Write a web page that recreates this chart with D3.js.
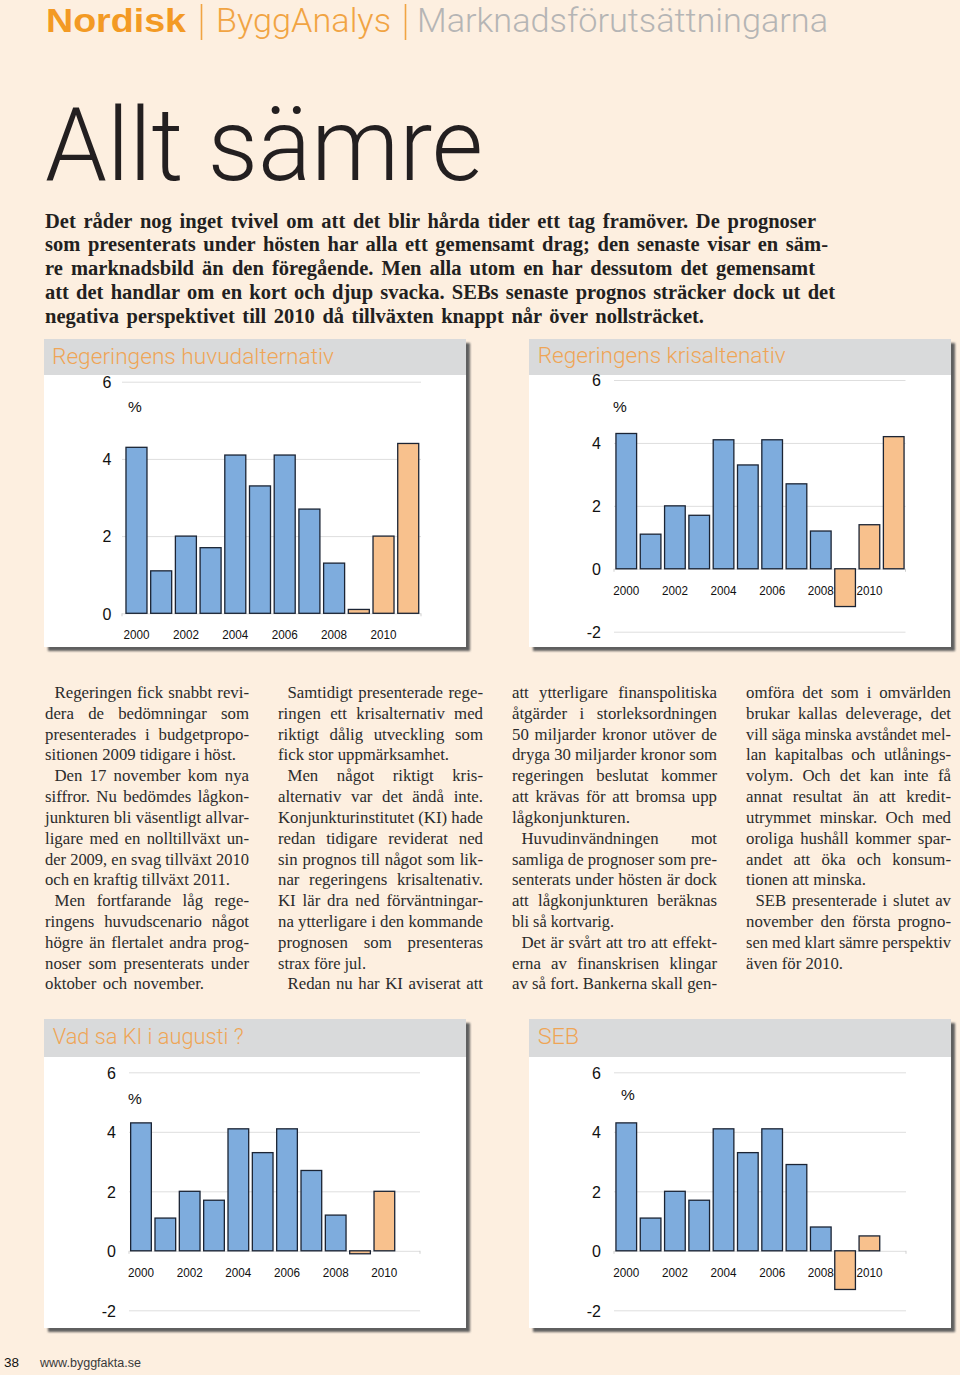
<!DOCTYPE html>
<html><head><meta charset="utf-8">
<script src="https://cdn.jsdelivr.net/npm/d3@7"></script>
<style>html,body{margin:0;padding:0;background:#fdefe0;} svg{display:block}</style>
</head><body><svg id="page" width="960" height="1375"></svg>
<script>
// ---------- DATA ----------
const years = ["2000","2001","2002","2003","2004","2005","2006","2007","2008","2009","2010","2011"];
const xTickLabels = ["2000","2002","2004","2006","2008","2010"];
const forecastYears = ["2009","2010","2011"];
const huvudValues = [4.3, 1.1, 2.0, 1.7, 4.1, 3.3, 4.1, 2.7, 1.3, 0.1, 2.0, 4.4];
const krisValues  = [4.3, 1.1, 2.0, 1.7, 4.1, 3.3, 4.1, 2.7, 1.2, -1.2, 1.4, 4.2];
const kiValues    = [4.3, 1.1, 2.0, 1.7, 4.1, 3.3, 4.1, 2.7, 1.2, -0.1, 2.0, null];
const sebValues   = [4.3, 1.1, 2.0, 1.7, 4.1, 3.3, 4.1, 2.9, 0.8, -1.3, 0.5, null];
const ticksPositive = [0, 2, 4, 6];
const ticksWithNegative = [-2, 0, 2, 4, 6];
const chartTitles = ["Regeringens huvudalternativ", "Regeringens krisaltenativ", "Vad sa KI i augusti ?", "SEB"];
const unitLabel = "%";

// ---------- PAGE ----------
const svg = d3.select("#page");
const SANS = "'Liberation Sans', Arial, sans-serif";
const LIGHT = "Roboto, 'Liberation Sans', sans-serif";
const SERIF = "'Liberation Serif', 'Times New Roman', serif";

svg.append("rect").attr("width",960).attr("height",1375).attr("fill","#fdefe0");

const defs = svg.append("defs");
defs.append("filter").attr("id","shadow").attr("x","-5%").attr("y","-5%").attr("width","110%").attr("height","110%")
  .append("feGaussianBlur").attr("stdDeviation",1.2);

function fitText(sel, target, mode) {
  sel.each(function(){
    const node = this;
    const w = node.getComputedTextLength();
    const txt = node.textContent;
    const spaces = (txt.match(/ /g) || []).length;
    if (mode === "words" && spaces > 0 && target >= w) {
      d3.select(node).attr("word-spacing", (target - w) / spaces);
    } else {
      d3.select(node).attr("textLength", target).attr("lengthAdjust","spacingAndGlyphs");
    }
  });
}

// Header
const hdr = svg.append("g");
hdr.append("text").attr("x",46).attr("y",32).attr("font-family",SANS).attr("font-weight","bold")
  .attr("font-size",33).attr("fill","#f39a24").text("Nordisk").call(fitText,140,"glyphs");
hdr.append("line").attr("x1",201.5).attr("x2",201.5).attr("y1",4).attr("y2",40).attr("stroke","#f1a443").attr("stroke-width",1.6);
hdr.append("text").attr("x",216).attr("y",32).attr("font-family",LIGHT).attr("font-weight",300)
  .attr("font-size",33).attr("fill","#f1a443").text("ByggAnalys").call(fitText,175,"glyphs");
hdr.append("line").attr("x1",405.5).attr("x2",405.5).attr("y1",4).attr("y2",40).attr("stroke","#f1a443").attr("stroke-width",1.6);
hdr.append("text").attr("x",417).attr("y",32).attr("font-family",LIGHT).attr("font-weight",300)
  .attr("font-size",33).attr("fill","#b5b5b5").text("Marknadsförutsättningarna").call(fitText,411,"glyphs");

// Big title
svg.append("text").attr("x",45).attr("y",180).attr("font-family",LIGHT).attr("font-weight",300)
  .attr("font-size",102).attr("fill","#231f20").text("Allt sämre").call(fitText,438,"glyphs");

// Intro
const introLines = [
  ["Det råder nog inget tvivel om att det blir hårda tider ett tag framöver. De prognoser", 816],
  ["som presenterats under hösten har alla ett gemensamt drag; den senaste visar en säm-", 828],
  ["re marknadsbild än den föregående. Men alla utom en har dessutom det gemensamt", 815],
  ["att det handlar om en kort och djup svacka. SEBs senaste prognos sträcker dock ut det", 835],
  ["negativa perspektivet till 2010 då tillväxten knappt når över nollsträcket.", 704]
];
introLines.forEach((l,i)=>{
  svg.append("text").attr("x",45).attr("y",227.5 + i*23.95).attr("font-family",SERIF).attr("font-weight","bold")
    .attr("font-size",20.5).attr("fill","#231f20").text(l[0]).call(fitText,l[1]-45,"words");
});

// Body columns: [text, indent, endX or null(justify)]
const columns = [
  {x:45, r:249, lines:[
    ["Regeringen fick snabbt revi-",1,null],["dera de bedömningar som",0,null],["presenterades i budgetpropo-",0,null],
    ["sitionen 2009 tidigare i höst.",0,236],["Den 17 november kom nya",1,null],["siffror. Nu bedömdes lågkon-",0,null],
    ["junkturen bli väsentligt allvar-",0,null],["ligare med en nolltillväxt un-",0,null],["der 2009, en svag tillväxt 2010",0,null],
    ["och en kraftig tillväxt 2011.",0,230],["Men fortfarande låg rege-",1,null],["ringens huvudscenario något",0,null],
    ["högre än flertalet andra prog-",0,null],["noser som presenterats under",0,null],["oktober och november.",0,204]]},
  {x:278, r:483, lines:[
    ["Samtidigt presenterade rege-",1,null],["ringen ett krisalternativ med",0,null],["riktigt dålig utveckling som",0,null],
    ["fick stor uppmärksamhet.",0,449],["Men något riktigt kris-",1,null],["alternativ var det ändå inte.",0,null],
    ["Konjunkturinstitutet (KI) hade",0,null],["redan tidigare reviderat ned",0,null],["sin prognos till något som lik-",0,null],
    ["nar regeringens krisaltenativ.",0,null],["KI lär dra ned förväntningar-",0,null],["na ytterligare i den kommande",0,null],
    ["prognosen som presenteras",0,null],["strax före jul.",0,366],["Redan nu har KI aviserat att",1,null]]},
  {x:512, r:717, lines:[
    ["att ytterligare finanspolitiska",0,null],["åtgärder i storleksordningen",0,null],["50 miljarder kronor utöver de",0,null],
    ["dryga 30 miljarder kronor som",0,null],["regeringen beslutat kommer",0,null],["att krävas för att bromsa upp",0,null],
    ["lågkonjunkturen.",0,630],["Huvudinvändningen mot",1,null],["samliga de prognoser som pre-",0,null],
    ["senterats under hösten är dock",0,null],["att lågkonjunkturen beräknas",0,null],["bli så kortvarig.",0,614],
    ["Det är svårt att tro att effekt-",1,null],["erna av finanskrisen klingar",0,null],["av så fort. Bankerna skall gen-",0,null]]},
  {x:746, r:951, lines:[
    ["omföra det som i omvärlden",0,null],["brukar kallas deleverage, det",0,null],["vill säga minska avståndet mel-",0,null],
    ["lan kapitalbas och utlånings-",0,null],["volym. Och det kan inte få",0,null],["annat resultat än att kredit-",0,null],
    ["utrymmet minskar. Och med",0,null],["oroliga hushåll kommer spar-",0,null],["andet att öka och konsum-",0,null],
    ["tionen att minska.",0,866],["SEB presenterade i slutet av",1,null],["november den första progno-",0,null],
    ["sen med klart sämre perspektiv",0,null],["även för 2010.",0,843]]}
];
columns.forEach(col=>{
  col.lines.forEach((l,i)=>{
    const x0 = col.x + (l[1] ? 9.5 : 0);
    const end = l[2] === null ? col.r : l[2];
    svg.append("text").attr("x",x0).attr("y",698 + i*20.82).attr("font-family",SERIF)
      .attr("font-size",16.8).attr("fill","#2b2b2b").text(l[0]).call(fitText,end-x0,"words");
  });
});

// Footer
svg.append("text").attr("x",4).attr("y",1367).attr("font-family",SANS).attr("font-size",13.5).attr("fill","#111").text("38");
svg.append("text").attr("x",40).attr("y",1367).attr("font-family",SANS).attr("font-size",12.3).attr("fill","#3a3a3a").text("www.byggfakta.se").call(fitText,101,"glyphs");

// ---------- CHARTS ----------
const charts = [
  {title:chartTitles[0], values:huvudValues, ticks:ticksPositive, panel:{x:44,y:339,w:422,h:308}, titleH:36,
   titleX:52, titleBase:363.5, titleW:282, yRange:[613.3,381.7], band:[124,420.7], grid:[122,421], yLabelX:111.5, pct:[135,406]},
  {title:chartTitles[1], values:krisValues, ticks:ticksWithNegative, panel:{x:529,y:339,w:422,h:308}, titleH:36,
   titleX:537.7, titleBase:363, titleW:248, yRange:[631.7,380], band:[614,906], grid:[614,905.5], yLabelX:601, pct:[620,406]},
  {title:chartTitles[2], values:kiValues, ticks:ticksWithNegative, panel:{x:44,y:1019,w:422,h:309}, titleH:38,
   titleX:52.7, titleBase:1043.5, titleW:191, yRange:[1310.3,1072.3], band:[128.7,421], grid:[129,420], yLabelX:116, pct:[135,1098]},
  {title:chartTitles[3], values:sebValues, ticks:ticksWithNegative, panel:{x:529,y:1019,w:422,h:309}, titleH:38,
   titleX:537.7, titleBase:1043.5, titleW:41.5, yRange:[1310.3,1072.3], band:[614,906], grid:[614,906], yLabelX:601, pct:[628,1094]}
];

charts.forEach(c=>{
  const g = svg.append("g");
  const p = c.panel;
  g.append("rect").attr("x",p.x+4).attr("y",p.y+4).attr("width",p.w).attr("height",p.h)
    .attr("fill","#5e5e5e").attr("filter","url(#shadow)");
  g.append("rect").attr("x",p.x).attr("y",p.y).attr("width",p.w).attr("height",p.h).attr("fill","#ffffff");
  g.append("rect").attr("x",p.x).attr("y",p.y).attr("width",p.w).attr("height",c.titleH).attr("fill","#d9dadb");
  g.append("text").attr("x",c.titleX).attr("y",c.titleBase).attr("font-family",LIGHT).attr("font-weight",300)
    .attr("font-size",22).attr("fill","#efa556").text(c.title).call(fitText,c.titleW,"glyphs");

  const yMin = d3.min(c.ticks), yMax = d3.max(c.ticks);
  const y = d3.scaleLinear().domain([yMin,yMax]).range(c.yRange);
  const x = d3.scaleBand().domain(years).range(c.band).paddingInner(0.15).paddingOuter(0.08);

  // gridlines via axis
  const gridAxis = d3.axisLeft(y).tickValues(c.ticks).tickSize(-(c.grid[1]-c.grid[0])).tickFormat("");
  const gg = g.append("g").attr("transform",`translate(${c.grid[0]},0)`).call(gridAxis);
  gg.select(".domain").remove();
  gg.selectAll(".tick line").attr("stroke","#dedede").attr("stroke-width",1);

  // y labels via axis
  const yAxis = d3.axisLeft(y).tickValues(c.ticks).tickSize(0).tickPadding(0).tickFormat(d=>String(d));
  const ya = g.append("g").attr("transform",`translate(${c.yLabelX},0)`).call(yAxis);
  ya.select(".domain").remove();
  ya.selectAll(".tick text").attr("font-family",SANS).attr("font-size",16).attr("fill","#111").attr("dy","0.36em");

  // small ticks at ends of zero line
  [c.grid[0], c.grid[1]].forEach(xx=>{
    g.append("line").attr("x1",xx).attr("x2",xx).attr("y1",y(0)).attr("y2",y(0)+3).attr("stroke","#cfcfcf");
  });

  // bars
  const data = years.map((yr,i)=>({year:yr, v:c.values[i]})).filter(d=>d.v !== null);
  g.selectAll("rect.bar").data(data).enter().append("rect").attr("class","bar")
    .attr("x",d=>x(d.year)).attr("width",x.bandwidth())
    .attr("y",d=>y(Math.max(0,d.v))).attr("height",d=>Math.abs(y(d.v)-y(0)))
    .attr("fill",d=>forecastYears.includes(d.year) ? "#f8c18d" : "#7eacdd")
    .attr("stroke","#1b2434").attr("stroke-width",1.3);

  // x labels via axis
  const xAxis = d3.axisBottom(x).tickValues(xTickLabels).tickSize(0).tickPadding(0);
  const xa = g.append("g").attr("transform",`translate(0,${y(0)+21})`).call(xAxis);
  xa.select(".domain").remove();
  xa.selectAll(".tick text").attr("font-family",SANS).attr("font-size",13.5).attr("fill","#111").attr("dy","0.36em")
    .call(fitText,26,"glyphs");

  g.append("text").attr("x",c.pct[0]).attr("y",c.pct[1]).attr("text-anchor","middle").attr("dy","0.36em")
    .attr("font-family",SANS).attr("font-size",15.5).attr("fill","#111").text(unitLabel);
});
</script></body></html>
